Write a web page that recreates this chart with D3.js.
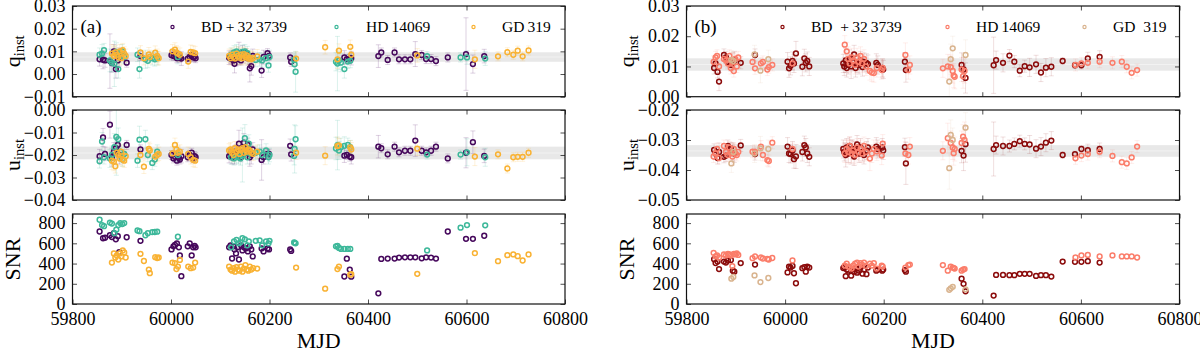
<!DOCTYPE html>
<html><head><meta charset="utf-8">
<script src="https://cdn.jsdelivr.net/npm/d3@7"></script>
<style>
html,body{margin:0;padding:0;background:#fff;}
svg{display:block;}
text{font-family:"Liberation Serif","DejaVu Serif",serif;fill:#000;}
</style></head>
<body>
<svg id="chart" width="1200" height="353"></svg>
<script>
// ---------- DATA: rows are [MJD, q_inst, u_inst, SNR, q error, u error] ----------
const bdA = [
[59855,0.0065,-0.0205,717,0.003,0.003],[59862,0.0063,-0.0122,650,0.004,0.004],[59866,0.0060,-0.0195,655,0.003,0.003],
[59876,0.0057,-0.0065,680,0.012,0.006],[59880,0.0048,-0.0210,662,0.004,0.004],[59884,0.0100,-0.0185,700,0.003,0.004],
[59888,0.0022,-0.0170,640,0.004,0.005],[59892,0.0060,-0.0155,670,0.003,0.003],[59895,0.0075,-0.0200,512,0.004,0.004],
[59910,0.0050,-0.0155,660,0.002,0.002],[59938,0.0079,-0.0175,625,0.002,0.002],
[60001,0.0083,-0.0200,540,0.002,0.002],[60005,0.0080,-0.0215,570,0.002,0.002],[60008,0.0086,-0.0208,585,0.002,0.002],
[60012,0.0070,-0.0225,600,0.002,0.002],[60016,0.0077,-0.0213,560,0.002,0.002],[60018,0.0072,-0.0220,480,0.002,0.002],
[60021,0.0068,-0.0205,275,0.003,0.003],[60034,0.0068,-0.0210,570,0.002,0.002],[60038,0.0075,-0.0200,600,0.002,0.002],
[60042,0.0083,-0.0190,480,0.002,0.002],[60045,0.0073,-0.0215,560,0.002,0.002],[60048,0.0077,-0.0205,575,0.002,0.002],
[60050,0.0070,-0.0210,560,0.002,0.002],
[60118,0.0072,-0.0205,560,0.003,0.003],[60121,0.0068,-0.0195,580,0.002,0.002],[60124,0.0075,-0.0210,450,0.003,0.003],
[60127,0.0060,-0.0190,570,0.002,0.002],[60129,0.0045,-0.0200,540,0.004,0.004],[60132,0.0065,-0.0185,500,0.003,0.003],
[60135,0.0085,-0.0200,560,0.002,0.002],[60138,0.0090,-0.0150,440,0.005,0.006],[60142,0.0060,-0.0210,580,0.002,0.002],
[60145,0.0095,-0.0170,530,0.003,0.003],[60148,0.0078,-0.0145,560,0.003,0.004],[60152,0.0092,-0.0190,550,0.002,0.002],
[60156,0.0070,-0.0155,520,0.003,0.003],[60160,0.0025,-0.0210,570,0.006,0.004],[60163,0.0035,-0.0200,540,0.004,0.004],
[60166,0.0080,-0.0175,470,0.003,0.003],[60184,0.0015,-0.0222,550,0.003,0.009],[60188,0.0075,-0.0210,520,0.003,0.003],
[60196,0.0092,-0.0195,550,0.002,0.002],[60199,0.0080,-0.0195,540,0.002,0.002],
[60242,0.0073,-0.0159,540,0.002,0.003],[60244,0.0054,-0.0197,525,0.002,0.003],
[60352,0.0073,-0.0203,272,0.003,0.003],[60357,0.0066,-0.0200,448,0.002,0.002],[60363,0.0068,-0.0207,340,0.002,0.002],
[60366,0.0070,-0.0210,270,0.003,0.003],
[60421,0.0079,-0.0163,106,0.005,0.005],[60427,0.0095,-0.0170,446,0.002,0.002],[60440,0.0062,-0.0197,449,0.002,0.002],
[60454,0.0095,-0.0163,449,0.002,0.002],[60463,0.0065,-0.0188,459,0.002,0.002],[60475,0.0065,-0.0181,462,0.002,0.002],
[60486,0.0065,-0.0181,462,0.002,0.002],[60496,0.0088,-0.0136,462,0.0055,0.007],[60509,0.0084,-0.0181,452,0.002,0.002],
[60518,0.0066,-0.0188,462,0.002,0.002],[60528,0.0066,-0.0181,459,0.002,0.002],[60538,0.0057,-0.0163,449,0.002,0.002],
[60562,0.0073,-0.0215,717,0.002,0.002],[60599,0.0088,-0.0190,645,0.016,0.0067],[60613,0.0044,-0.0143,645,0.004,0.005],
[60636,0.0079,-0.0204,675,0.003,0.003]
];
const hdA = [
[59855,0.0085,-0.0228,833,0.003,0.003],[59860,0.0090,-0.0140,780,0.004,0.004],[59864,0.0105,-0.0210,770,0.003,0.003],
[59876,0.0060,-0.0215,805,0.005,0.004],[59880,0.0050,-0.0200,795,0.004,0.004],[59885,0.0045,-0.0165,700,0.010,0.006],
[59889,0.0098,-0.0120,735,0.004,0.017],[59893,0.0022,-0.0130,780,0.004,0.005],[59897,0.0080,-0.0185,800,0.003,0.003],
[59901,0.0100,-0.0220,790,0.003,0.003],[59905,0.0075,-0.0195,800,0.003,0.003],
[59932,0.0085,-0.0225,727,0.003,0.003],[59936,0.0022,-0.0132,720,0.004,0.006],[59948,0.0065,-0.0130,680,0.004,0.004],
[59953,0.0058,-0.0200,700,0.003,0.003],[59962,0.0070,-0.0235,711,0.003,0.003],[59967,0.0065,-0.0220,712,0.003,0.003],
[59972,0.0070,-0.0185,715,0.003,0.003],
[60014,0.0075,-0.0200,665,0.003,0.003],
[60122,0.0085,-0.0210,560,0.003,0.003],[60128,0.0095,-0.0215,620,0.003,0.003],[60133,0.0100,-0.0205,635,0.003,0.003],
[60137,0.0090,-0.0210,600,0.003,0.003],[60141,0.0080,-0.0215,610,0.003,0.003],[60145,0.0098,-0.0200,650,0.003,0.012],
[60150,0.0100,-0.0125,640,0.003,0.006],[60155,0.0092,-0.0210,580,0.003,0.003],[60158,0.0075,-0.0150,620,0.003,0.004],
[60172,0.0062,-0.0190,625,0.003,0.003],[60180,0.0065,-0.0185,630,0.003,0.003],[60185,0.0060,-0.0200,580,0.003,0.003],
[60193,0.0070,-0.0180,620,0.003,0.003],[60198,0.0038,-0.0210,600,0.003,0.003],[60200,0.0075,-0.0200,625,0.003,0.003],
[60250,0.0063,-0.0204,608,0.003,0.004],[60251,0.0043,-0.0173,605,0.004,0.0107],[60253,0.0010,-0.0130,600,0.009,0.006],
[60335,0.0054,-0.0171,570,0.004,0.005],[60338,0.0046,-0.0156,575,0.012,0.011],[60341,0.0060,-0.0180,555,0.004,0.004],
[60345,0.0050,-0.0165,545,0.004,0.004],[60352,0.0022,-0.0159,545,0.004,0.004],[60359,0.0055,-0.0155,545,0.003,0.003],
[60364,0.0058,-0.0165,545,0.003,0.003],
[60520,0.0079,-0.0198,530,0.002,0.002],
[60588,0.0073,-0.0198,755,0.002,0.002],[60601,0.0073,-0.0188,780,0.003,0.006],[60638,0.0068,-0.0210,778,0.003,0.004]
];
const gdA = [
[59880,0.0090,-0.0225,410,0.004,0.004],[59884,0.0080,-0.0230,500,0.004,0.004],[59887,0.0095,-0.0250,460,0.003,0.003],
[59890,0.0085,-0.0190,480,0.003,0.003],[59893,0.0075,-0.0200,440,0.003,0.003],[59896,0.0100,-0.0215,500,0.003,0.003],
[59899,0.0070,-0.0185,470,0.003,0.003],[59902,0.0105,-0.0220,530,0.003,0.003],[59905,0.0090,-0.0225,510,0.003,0.003],
[59908,0.0080,-0.0205,460,0.003,0.003],
[59938,0.0095,-0.0200,496,0.003,0.003],[59945,0.0070,-0.0252,425,0.003,0.003],[59955,0.0087,-0.0173,340,0.003,0.003],
[59957,0.0075,-0.0180,305,0.003,0.003],[59968,0.0094,-0.0207,463,0.003,0.003],[59972,0.0080,-0.0200,455,0.003,0.003],
[59975,0.0070,-0.0195,460,0.003,0.003],
[60003,0.0100,-0.0193,410,0.003,0.003],[60008,0.0108,-0.0155,403,0.003,0.003],[60011,0.0095,-0.0175,345,0.003,0.003],
[60014,0.0090,-0.0190,370,0.003,0.003],[60018,0.0085,-0.0185,436,0.003,0.003],[60035,0.0055,-0.0195,370,0.003,0.003],
[60040,0.0098,-0.0210,354,0.003,0.003],[60045,0.0095,-0.0222,360,0.003,0.003],[60049,0.0092,-0.0225,410,0.003,0.003],
[60118,0.0080,-0.0180,370,0.003,0.003],[60121,0.0070,-0.0175,340,0.003,0.003],[60124,0.0085,-0.0190,330,0.003,0.003],
[60127,0.0075,-0.0200,355,0.003,0.003],[60130,0.0068,-0.0170,320,0.003,0.003],[60133,0.0090,-0.0185,365,0.003,0.003],
[60136,0.0080,-0.0175,340,0.003,0.003],[60139,0.0072,-0.0195,330,0.003,0.003],[60142,0.0085,-0.0180,370,0.003,0.003],
[60145,0.0070,-0.0170,320,0.003,0.003],[60148,0.0088,-0.0190,350,0.003,0.003],[60151,0.0075,-0.0165,385,0.003,0.003],
[60154,0.0082,-0.0185,340,0.003,0.003],[60157,0.0068,-0.0175,330,0.003,0.003],[60160,0.0072,-0.0180,370,0.003,0.003],
[60163,0.0065,-0.0190,340,0.003,0.003],[60167,0.0070,-0.0195,355,0.003,0.003],[60175,0.0078,-0.0185,350,0.003,0.003],
[60254,0.0068,-0.0190,360,0.003,0.003],
[60313,0.0118,-0.0203,152,0.003,0.004],[60338,0.0065,-0.0160,345,0.004,0.004],[60341,0.0103,-0.0157,370,0.003,0.003],
[60364,0.0120,-0.0166,290,0.003,0.003],[60366,0.0085,-0.0175,295,0.003,0.003],
[60500,0.0082,-0.0172,298,0.003,0.003],
[60617,0.0065,-0.0207,503,0.004,0.004],[60664,0.0078,-0.0197,423,0.002,0.002],[60683,0.0096,-0.0260,483,0.002,0.002],
[60695,0.0085,-0.0210,490,0.002,0.002],[60704,0.0103,-0.0208,473,0.002,0.002],[60714,0.0078,-0.0208,430,0.002,0.002],
[60726,0.0104,-0.0190,490,0.002,0.002]
];
const bdB = [
[59856,0.0095,-0.0333,443,0.002,0.002],[59859,0.0110,-0.0345,405,0.002,0.002],[59863,0.0082,-0.0360,420,0.002,0.002],
[59866,0.0050,-0.0340,345,0.003,0.003],[59876,0.0138,-0.0356,420,0.002,0.002],[59880,0.0130,-0.0352,410,0.002,0.002],
[59884,0.0115,-0.0320,430,0.002,0.002],[59890,0.0105,-0.0328,435,0.002,0.002],[59894,0.0115,-0.0340,330,0.003,0.003],
[59897,0.0120,-0.0345,320,0.003,0.003],[59910,0.0112,-0.0318,405,0.002,0.002],
[59939,0.0138,-0.0347,390,0.002,0.002],
[60005,0.0116,-0.0322,312,0.003,0.003],[60008,0.0094,-0.0345,370,0.003,0.003],[60011,0.0102,-0.0347,360,0.003,0.003],
[60015,0.0118,-0.0335,377,0.003,0.003],[60018,0.0110,-0.0364,304,0.003,0.003],[60022,0.0143,-0.0355,205,0.004,0.004],
[60035,0.0099,-0.0340,354,0.003,0.003],[60039,0.0127,-0.0317,365,0.003,0.003],[60042,0.0112,-0.0325,320,0.003,0.003],
[60045,0.0118,-0.0345,370,0.003,0.003],[60049,0.0100,-0.0356,360,0.003,0.003],
[60118,0.0110,-0.0330,355,0.003,0.003],[60120,0.0100,-0.0340,365,0.003,0.003],[60123,0.0120,-0.0350,275,0.004,0.004],
[60125,0.0095,-0.0325,340,0.003,0.003],[60128,0.0105,-0.0345,330,0.003,0.003],[60131,0.0125,-0.0320,360,0.003,0.003],
[60134,0.0100,-0.0340,280,0.004,0.004],[60137,0.0115,-0.0330,340,0.003,0.003],[60140,0.0140,-0.0355,320,0.003,0.003],
[60143,0.0095,-0.0335,350,0.003,0.003],[60146,0.0110,-0.0315,310,0.003,0.003],[60150,0.0105,-0.0345,330,0.003,0.003],
[60153,0.0120,-0.0325,360,0.003,0.003],[60157,0.0098,-0.0340,300,0.003,0.003],[60160,0.0115,-0.0350,340,0.003,0.003],
[60165,0.0112,-0.0335,295,0.003,0.003],[60168,0.0108,-0.0325,360,0.003,0.003],[60185,0.0112,-0.0322,330,0.003,0.003],
[60188,0.0105,-0.0330,340,0.003,0.003],[60197,0.0095,-0.0325,330,0.003,0.003],[60199,0.0090,-0.0335,340,0.003,0.003],
[60243,0.0116,-0.0324,335,0.003,0.003],[60245,0.0088,-0.0378,320,0.004,0.007],
[60358,0.0105,-0.0336,250,0.004,0.004],[60362,0.0090,-0.0352,200,0.004,0.005],[60366,0.0062,-0.0314,125,0.005,0.006],
[60423,0.0104,-0.0330,83,0.0093,0.009],[60428,0.0121,-0.0317,288,0.003,0.003],[60442,0.0112,-0.0320,288,0.003,0.003],
[60455,0.0136,-0.0320,285,0.002,0.002],[60465,0.0116,-0.0313,285,0.002,0.002],[60476,0.0086,-0.0304,298,0.002,0.002],
[60486,0.0101,-0.0313,298,0.002,0.002],[60496,0.0097,-0.0315,298,0.003,0.003],[60509,0.0107,-0.0329,278,0.003,0.003],
[60519,0.0080,-0.0322,285,0.003,0.003],[60529,0.0096,-0.0309,285,0.003,0.003],[60540,0.0099,-0.0302,271,0.003,0.003],
[60563,0.0118,-0.0350,420,0.001,0.001],[60588,0.0104,-0.0347,417,0.001,0.001],[60601,0.0104,-0.0330,417,0.001,0.001],
[60614,0.0127,-0.0334,423,0.002,0.002],[60638,0.0132,-0.0330,410,0.002,0.002]
];
const hdB = [
[59855,0.0115,-0.0355,505,0.002,0.002],[59859,0.0130,-0.0345,470,0.002,0.002],[59862,0.0135,-0.0330,480,0.002,0.002],
[59866,0.0100,-0.0360,460,0.002,0.002],[59876,0.0125,-0.0320,490,0.002,0.002],[59880,0.0120,-0.0340,480,0.002,0.002],
[59884,0.0110,-0.0350,495,0.002,0.002],[59887,0.0135,-0.0325,490,0.002,0.002],[59890,0.0095,-0.0345,480,0.002,0.002],
[59893,0.0115,-0.0355,375,0.003,0.003],[59896,0.0085,-0.0330,495,0.002,0.002],[59899,0.0125,-0.0345,490,0.002,0.002],
[59902,0.0100,-0.0350,500,0.002,0.002],[59905,0.0130,-0.0340,485,0.002,0.002],
[59934,0.0115,-0.0339,453,0.002,0.002],[59939,0.0094,-0.0340,470,0.002,0.002],[59951,0.0110,-0.0322,460,0.002,0.002],
[59955,0.0115,-0.0350,450,0.002,0.002],[59964,0.0090,-0.0367,445,0.002,0.002],[59967,0.0098,-0.0370,440,0.002,0.002],
[59974,0.0105,-0.0309,455,0.002,0.002],
[60015,0.0110,-0.0330,430,0.002,0.002],
[60121,0.0172,-0.0345,380,0.003,0.003],[60125,0.0150,-0.0330,400,0.003,0.003],[60128,0.0125,-0.0340,370,0.004,0.004],
[60131,0.0110,-0.0320,360,0.003,0.003],[60135,0.0130,-0.0345,350,0.003,0.003],[60138,0.0120,-0.0335,380,0.003,0.003],
[60142,0.0105,-0.0350,400,0.003,0.003],[60146,0.0130,-0.0325,410,0.003,0.003],[60149,0.0115,-0.0340,370,0.003,0.003],
[60153,0.0135,-0.0330,405,0.003,0.003],[60156,0.0110,-0.0345,390,0.003,0.003],[60160,0.0125,-0.0320,410,0.003,0.003],
[60164,0.0100,-0.0340,375,0.003,0.003],[60172,0.0085,-0.0362,400,0.003,0.004],[60176,0.0080,-0.0345,380,0.003,0.003],
[60180,0.0078,-0.0330,405,0.003,0.003],[60186,0.0095,-0.0338,350,0.003,0.003],[60196,0.0088,-0.0352,380,0.003,0.003],
[60198,0.0095,-0.0312,370,0.003,0.003],
[60244,0.0138,-0.0345,360,0.004,0.004],[60250,0.0088,-0.0350,385,0.003,0.003],[60253,0.0105,-0.0322,390,0.003,0.003],
[60320,0.0094,-0.0336,385,0.003,0.003],[60330,0.0100,-0.0294,330,0.004,0.005],[60336,0.0098,-0.0310,370,0.004,0.004],
[60340,0.0085,-0.0325,360,0.004,0.004],[60342,0.0070,-0.0344,355,0.004,0.004],[60344,0.0066,-0.0330,350,0.004,0.004],
[60358,0.0090,-0.0310,330,0.004,0.004],[60361,0.0068,-0.0289,340,0.004,0.004],[60364,0.0085,-0.0300,345,0.004,0.006],
[60589,0.0105,-0.0361,460,0.002,0.002],[60601,0.0110,-0.0352,480,0.002,0.002],[60614,0.0112,-0.0347,485,0.002,0.002],
[60638,0.0116,-0.0339,470,0.002,0.002],[60664,0.0112,-0.0353,480,0.002,0.002],[60683,0.0116,-0.0374,470,0.002,0.002],
[60693,0.0099,-0.0378,470,0.002,0.002],[60703,0.0079,-0.0358,470,0.002,0.002],[60714,0.0088,-0.0322,460,0.002,0.002]
];
const gdB = [
[59891,0.0122,-0.0378,250,0.003,0.003],[59895,0.0118,-0.0340,268,0.003,0.003],[59938,0.0140,-0.0345,283,0.003,0.003],
[59950,0.0086,-0.0328,217,0.004,0.004],[59966,0.0124,-0.0330,257,0.003,0.003],
[60333,0.0050,-0.0394,140,0.005,0.007],[60336,0.0124,-0.0283,155,0.005,0.005],[60340,0.0160,-0.0300,170,0.004,0.004],
[60366,0.0138,-0.0259,145,0.005,0.005]
];
// grey bands [low, high]
const bandQA = [0.0054, 0.0096], bandUA = [-0.0219, -0.0163];
const bandQB = [0.0086, 0.0127], bandUB = [-0.0356, -0.0317];
// axis ticks
const xTicks = [59800, 60000, 60200, 60400, 60600, 60800];
const qTicksA = [-0.01, 0.00, 0.01, 0.02, 0.03], uTicksA = [-0.04, -0.03, -0.02, -0.01, 0.00];
const qTicksB = [0.00, 0.01, 0.02, 0.03], uTicksB = [-0.05, -0.04, -0.03, -0.02];
const snrTicks = [0, 200, 400, 600, 800];
const starNames = ["BD\u2009+\u200932\u20093739", "HD\u200914069", "GD\u2009319"];
const starNamesB = ["BD\u2002+\u200932\u20093739", "HD\u200914069", "GD\u2002319"];
const coloursA = ["#46085c", "#3db89a", "#f9b233"];
const coloursB = ["#8b0b0b", "#fb7d6a", "#d9b48f"];

// ---------- DRAW ----------
const svg = d3.select("#chart");
const rows = [[6, 96.7], [110, 200], [214, 304]];
const panels = [
  {tag: "(a)", x0: 72.5, x1: 565, series: [bdA, hdA, gdA], colours: coloursA, names: starNames,
   qDom: [-0.01, 0.03], uDom: [-0.04, 0.0], qTicks: qTicksA, uTicks: uTicksA, bandQ: bandQA, bandU: bandUA,
   legend: [[100, 128.5], [264, 293.5], [401, 429.5]], ebAlpha: 0.18},
  {tag: "(b)", x0: 686.5, x1: 1179.5, series: [bdB, hdB, gdB], colours: coloursB, names: starNamesB,
   qDom: [0.0, 0.03], uDom: [-0.05, -0.02], qTicks: qTicksB, uTicks: uTicksB, bandQ: bandQB, bandU: bandUB,
   legend: [[96, 124.5], [261, 289.5], [398, 426.5]], ebAlpha: 0.13}
];
const fmt2 = d3.format(".2f");
const fmt0 = d3.format("d");
const tickFont = 18;

panels.forEach(P => {
  const x = d3.scaleLinear().domain([59800, 60800]).range([P.x0, P.x1]);
  const specs = [
    {dom: P.qDom, ticks: P.qTicks, fmt: fmt2, idx: 1, err: 4, band: P.bandQ, label: ["q", "inst"]},
    {dom: P.uDom, ticks: P.uTicks, fmt: fmt2, idx: 2, err: 5, band: P.bandU, label: ["u", "inst"]},
    {dom: [0, 890], ticks: snrTicks, fmt: fmt0, idx: 3, err: null, band: null, label: ["SNR", null]}
  ];
  specs.forEach((S, r) => {
    const [top, bot] = rows[r];
    const y = d3.scaleLinear().domain(S.dom).range([bot, top]);
    const g = svg.append("g");
    const clipId = "clip" + P.tag.replace(/\W/g, "") + r;
    g.append("clipPath").attr("id", clipId).append("rect")
      .attr("x", P.x0).attr("y", top).attr("width", P.x1 - P.x0).attr("height", bot - top);
    const plot = g.append("g").attr("clip-path", `url(#${clipId})`);
    if (S.band) {
      plot.append("rect").attr("x", P.x0).attr("width", P.x1 - P.x0)
        .attr("y", y(S.band[1])).attr("height", y(S.band[0]) - y(S.band[1]))
        .attr("fill", "#e4e4e4").attr("opacity", 0.85);
      const mid = (S.band[0] + S.band[1]) / 2;
      plot.append("line").attr("x1", P.x0).attr("x2", P.x1).attr("y1", y(mid)).attr("y2", y(mid))
        .attr("stroke", "#f2f2f2").attr("stroke-width", 1);
    }
    // error bars
    if (S.err !== null) {
      P.series.forEach((ser, k) => {
        const eg = plot.append("g").attr("stroke", P.colours[k]).attr("stroke-opacity", P.ebAlpha).attr("stroke-width", 1);
        ser.forEach(d => {
          const cx = x(d[0]), y1 = y(d[S.idx] + d[S.err]), y2 = y(d[S.idx] - d[S.err]);
          eg.append("line").attr("x1", cx).attr("x2", cx).attr("y1", y1).attr("y2", y2);
          eg.append("line").attr("x1", cx - 2.5).attr("x2", cx + 2.5).attr("y1", y1).attr("y2", y1);
          eg.append("line").attr("x1", cx - 2.5).attr("x2", cx + 2.5).attr("y1", y2).attr("y2", y2);
        });
      });
    }
    // points
    P.series.forEach((ser, k) => {
      plot.append("g").selectAll("circle").data(ser).join("circle")
        .attr("cx", d => x(d[0])).attr("cy", d => y(d[S.idx])).attr("r", 2.4)
        .attr("fill", "none").attr("stroke", P.colours[k]).attr("stroke-width", 1.5);
    });
    // axes with inward ticks
    const left = g.append("g").attr("transform", `translate(${P.x0},0)`)
      .call(d3.axisLeft(y).tickValues(S.ticks).tickSize(-4.5).tickPadding(7).tickFormat(S.fmt));
    left.selectAll("text").attr("font-size", tickFont).attr("font-family", "Liberation Serif, DejaVu Serif, serif").attr("fill", "#000");
    g.append("g").attr("transform", `translate(${P.x1},0)`)
      .call(d3.axisRight(y).tickValues(S.ticks).tickSize(-4.5).tickFormat(""));
    g.append("g").attr("transform", `translate(0,${top})`)
      .call(d3.axisTop(x).tickValues(xTicks).tickSize(-4.5).tickFormat(""));
    const bottom = g.append("g").attr("transform", `translate(0,${bot})`)
      .call(d3.axisBottom(x).tickValues(xTicks).tickSize(-4.5).tickPadding(8).tickFormat(r === 2 ? fmt0 : ""));
    bottom.selectAll("text").attr("font-size", tickFont).attr("font-family", "Liberation Serif, DejaVu Serif, serif").attr("fill", "#000");
    g.selectAll(".domain").remove();
    g.selectAll(".tick line").attr("stroke", "#222").attr("stroke-width", 0.8);
    g.append("rect").attr("x", P.x0).attr("y", top).attr("width", P.x1 - P.x0).attr("height", bot - top)
      .attr("fill", "none").attr("stroke", "#111").attr("stroke-width", 1.2);
    // y label
    const lx = P.x0 - 53, ly = (top + bot) / 2;
    const t = svg.append("text").attr("transform", `translate(${lx},${ly}) rotate(-90)`)
      .attr("text-anchor", "middle").attr("font-size", 22);
    t.append("tspan").text(S.label[0]);
    if (S.label[1]) t.append("tspan").attr("font-size", 14.5).attr("dy", 4).text(S.label[1]);
  });
  // x label
  svg.append("text").attr("x", (P.x0 + P.x1) / 2).attr("y", 348).attr("text-anchor", "middle")
    .attr("font-size", 22).text("MJD");
  // panel tag
  svg.append("text").attr("x", P.x0 + 8).attr("y", 33).attr("font-size", 19).text(P.tag);
  // legend
  P.legend.forEach((L, k) => {
    svg.append("circle").attr("cx", P.x0 + L[0]).attr("cy", 27).attr("r", 1.6)
      .attr("fill", "none").attr("stroke", P.colours[k]).attr("stroke-width", 1.2);
    svg.append("text").attr("x", P.x0 + L[1]).attr("y", 32).attr("font-size", 15.5).text(P.names[k]);
  });
});
</script>
</body></html>
